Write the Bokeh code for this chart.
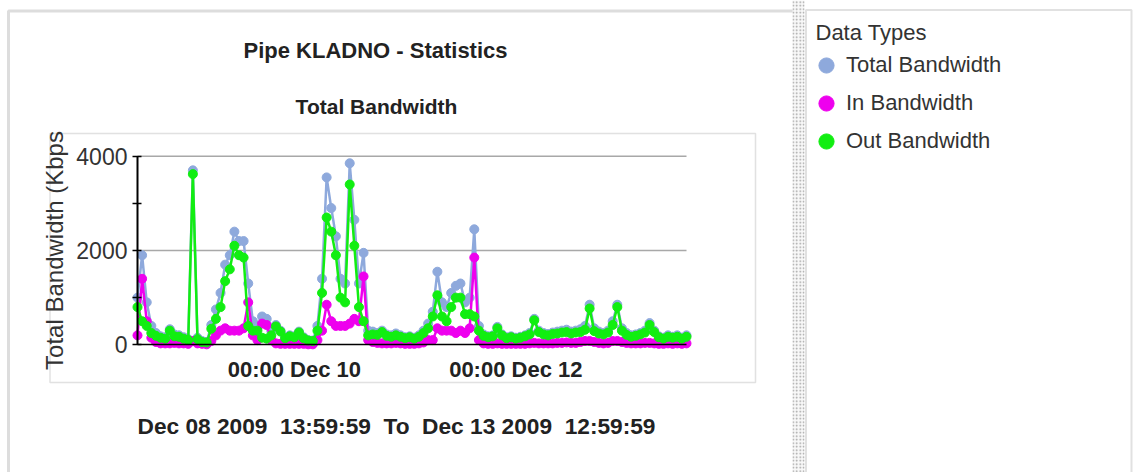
import datetime as dt
from bokeh.plotting import figure
from bokeh.models import (Range1d, DatetimeTickFormatter, FixedTicker, Label,
                          BoxAnnotation, Legend, LegendItem)
from bokeh.embed import file_html
from bokeh.resources import INLINE

# ---------------- data ----------------
start_time = dt.datetime(2009, 12, 8, 14, 0)
n_hours = 120
times = [start_time + dt.timedelta(hours=h) for h in range(n_hours)]

total_bw = [1000, 1900, 900, 400, 250, 180, 160, 330, 220, 200,
            160, 120, 3700, 150, 80, 60, 420, 750, 1100, 1700,
            1900, 2400, 2200, 2200, 1300, 500, 400, 600, 550, 300,
            420, 300, 160, 200, 180, 280, 160, 100, 90, 400,
            1400, 3550, 2900, 2300, 1400, 1300, 3850, 2650, 1300, 1950,
            300, 280, 250, 300, 220, 200, 240, 200, 160, 180,
            150, 200, 300, 450, 700, 1550, 900, 800, 1100, 1250,
            1300, 900, 1000, 2450, 400, 220, 180, 200, 380, 220,
            160, 180, 150, 170, 200, 250, 550, 300, 250, 230,
            260, 280, 300, 320, 280, 300, 330, 400, 850, 350,
            280, 250, 300, 500, 850, 350, 250, 200, 220, 250,
            300, 460, 300, 180, 150, 200, 170, 200, 150, 200]

in_bw = [200, 1400, 500, 150, 60, 30, 30, 30, 40, 30,
         30, 20, 80, 30, 20, 10, 80, 200, 300, 350,
         300, 300, 300, 350, 900, 200, 100, 450, 420, 100,
         30, 20, 20, 20, 20, 20, 20, 10, 10, 100,
         300, 850, 500, 400, 400, 400, 450, 550, 500, 1450,
         100, 60, 40, 30, 30, 30, 40, 30, 20, 20,
         20, 30, 50, 100, 100, 350, 300, 300, 300, 250,
         300, 250, 350, 1850, 100, 30, 20, 20, 30, 20,
         20, 20, 20, 20, 20, 30, 40, 30, 30, 30,
         30, 40, 40, 50, 40, 40, 60, 80, 80, 60,
         40, 30, 40, 80, 80, 60, 40, 30, 30, 30,
         40, 40, 30, 20, 20, 30, 20, 30, 20, 30]

out_bw = [800, 500, 400, 250, 190, 150, 130, 300, 180, 170,
          130, 100, 3620, 120, 60, 50, 340, 550, 800, 1350,
          1600, 2100, 1900, 1850, 400, 300, 300, 150, 130, 200,
          390, 280, 140, 180, 160, 260, 140, 90, 80, 300,
          1100, 2700, 2400, 1900, 1000, 900, 3400, 2100, 800, 500,
          200, 220, 210, 270, 190, 170, 200, 170, 140, 160,
          130, 170, 250, 350, 600, 1050, 600, 500, 800, 1000,
          1000, 650, 650, 600, 300, 190, 160, 180, 350, 200,
          140, 160, 130, 150, 180, 220, 520, 270, 220, 200,
          230, 240, 260, 270, 240, 260, 270, 320, 770, 290,
          240, 220, 260, 420, 800, 300, 210, 170, 190, 220,
          260, 420, 270, 160, 130, 170, 150, 170, 130, 170]

series_names = ["Total Bandwidth", "In Bandwidth", "Out Bandwidth"]
series_values = [total_bw, in_bw, out_bw]
series_colors = ["#8ea9dc", "#ee00ee", "#11ee11"]

x_tick_times = [dt.datetime(2009, 12, 10, 0, 0), dt.datetime(2009, 12, 12, 0, 0)]
y_ticks = [0, 2000, 4000]
y_minor_ticks = [1000, 3000]
y_grid_values = [2000, 4000]

chart_title = "Pipe KLADNO - Statistics"
chart_subtitle = "Total Bandwidth"
y_label = "Total Bandwidth (Kbps"
NB = "\u00a0"
period_text = ("Dec 08 2009" + NB + " 13:59:59" + NB + " To" + NB +
               " Dec 13 2009" + NB + " 12:59:59")
legend_title = "Data Types"

EPOCH = dt.datetime(1970, 1, 1)
def to_ms(t):
    return (t - EPOCH).total_seconds() * 1000.0

FONT = "Liberation Sans"

# ---------------- layout constants (pixels) ----------------
W, H = 1135, 472
PX_LEFT, PX_RIGHT = 137.0, 686.0      # data area, x
PX_Y0, PX_Y4000 = 344.3, 155.7        # data area, y (value 0 / 4000)

t0, t1 = to_ms(times[0]), to_ms(times[-1])
ms_per_px = (t1 - t0) / (PX_RIGHT - PX_LEFT)
x_start = t0 - PX_LEFT * ms_per_px
x_end = t1 + (W - PX_RIGHT) * ms_per_px
val_per_px = 4000.0 / (PX_Y0 - PX_Y4000)
y_end = 4000 + PX_Y4000 * val_per_px
y_start = 0 - (H - PX_Y0) * val_per_px

p = figure(width=W, height=H, output_backend="svg", toolbar_location=None,
           title=None, x_axis_type="datetime",
           x_range=Range1d(x_start, x_end), y_range=Range1d(y_start, y_end),
           min_border=0)
p.min_border_left = p.min_border_right = p.min_border_top = p.min_border_bottom = 0
p.background_fill_color = "white"
p.border_fill_color = "white"
p.outline_line_color = None
p.xgrid.visible = False
p.ygrid.visible = False

def sx(x):
    return x
def sy(y):
    return H - y

def box(l, r, t, b, **kw):
    p.add_layout(BoxAnnotation(left=sx(l), right=sx(r), top=sy(t), bottom=sy(b),
                               left_units="screen", right_units="screen",
                               top_units="screen", bottom_units="screen",
                               level="underlay", **kw))

# panels
box(8, 800, 10.5, 520, fill_color=None, fill_alpha=0, line_color="#8e8e8e", line_width=3)
box(792, 804, -5, 520, fill_color="#f8f8f8", fill_alpha=1, hatch_pattern=".",
    hatch_color="#9e9e9e", hatch_scale=3.5, line_color=None)
box(805.5, 1131, 9.5, 520, fill_color="white", fill_alpha=1, line_color="#9c9c9c", line_width=2)
box(49.5, 755, 133, 382, fill_color=None, fill_alpha=0, line_color="#9a9a9a", line_width=1.5)

# grid lines at tick values
p.segment(x0=[times[0]] * len(y_grid_values), x1=[times[-1]] * len(y_grid_values),
          y0=y_grid_values, y1=y_grid_values, line_color="#a8a8a8", line_width=1.5)

# x axis
xa = p.xaxis[0]
xa.fixed_location = 0
xa.bounds = (t0, t1)
xa.ticker = FixedTicker(ticks=[to_ms(t) for t in x_tick_times], minor_ticks=[])
fmt = "%H:%M %b %d"
xa.formatter = DatetimeTickFormatter(
    microseconds=fmt, milliseconds=fmt, seconds=fmt, minsec=fmt, minutes=fmt,
    hourmin=fmt, hours=fmt, days=fmt, months=fmt, years=fmt)
xa.axis_line_color = "black"
xa.axis_line_width = 1.5
xa.major_tick_line_color = None
xa.minor_tick_line_color = None
xa.major_tick_out = 0
xa.major_tick_in = 0
xa.major_label_standoff = 12
xa.major_label_text_font = FONT
xa.major_label_text_font_size = "22px"
xa.major_label_text_font_style = "bold"
xa.major_label_text_color = "#222222"

# y axis
ya = p.yaxis[0]
ya.fixed_location = t0
ya.bounds = (0, 4000)
ya.ticker = FixedTicker(ticks=y_ticks, minor_ticks=y_minor_ticks)
ya.axis_line_color = "black"
ya.axis_line_width = 2
ya.major_tick_line_color = "black"
ya.major_tick_line_width = 1.5
ya.major_tick_in = 4
ya.major_tick_out = 5
ya.minor_tick_line_color = "black"
ya.minor_tick_line_width = 1.5
ya.minor_tick_in = 4
ya.minor_tick_out = 5
ya.major_label_standoff = 5
ya.major_label_text_font = FONT
ya.major_label_text_font_size = "23px"
ya.major_label_text_color = "#333333"
ya.axis_label = y_label
ya.axis_label_standoff = 5
ya.axis_label_text_font = FONT
ya.axis_label_text_font_size = "24px"
ya.axis_label_text_font_style = "normal"
ya.axis_label_text_color = "#333333"

# series
legend_renderers = []
for name, vals, color in zip(series_names, series_values, series_colors):
    p.line(times, vals, line_color=color, line_width=2.5)
    r = p.scatter(times, vals, size=9, marker="circle",
                  fill_color=color, line_color=color)
    legend_renderers.append(r)

# texts
def add_text(txt, x, y, size, style, align="center", color="#222222"):
    p.add_layout(Label(x=sx(x), y=sy(y), x_units="screen", y_units="screen",
                       text=txt, text_font=FONT, text_font_size=size,
                       text_font_style=style, text_align=align,
                       text_baseline="alphabetic", text_color=color))

add_text(chart_title, 375, 50, "22px", "bold")
add_text(chart_subtitle, 376, 106, "21px", "bold")
add_text(period_text, 396, 425, "22.7px", "bold")
add_text(legend_title, 815, 32, "22px", "normal", align="left", color="#333333")

# legend
items = [LegendItem(label=n, renderers=[r]) for n, r in zip(series_names, legend_renderers)]
legend = Legend(items=items, location=(sx(806), sy(160)),
                glyph_width=40, glyph_height=38, label_standoff=0, spacing=0,
                label_height=38, padding=0, margin=0, border_line_color=None,
                background_fill_alpha=0,
                label_text_font=FONT, label_text_font_size="22px",
                label_text_color="#333333")
p.add_layout(legend)

open("out.html", "w").write(file_html(p, INLINE))
